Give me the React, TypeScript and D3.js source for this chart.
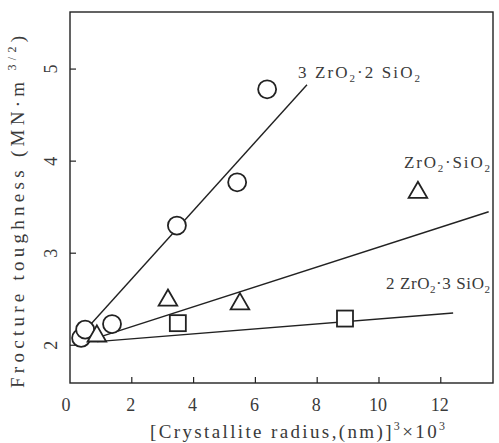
import * as d3 from "d3";

// measured points, x = [crystallite radius (nm)]^3 x 10^3, y = fracture toughness
const circleX = [0.36, 0.49, 1.36, 3.46, 5.41, 6.38];
const circleY = [2.08, 2.17, 2.23, 3.3, 3.77, 4.78];
const triangleX = [0.87, 3.17, 5.5, 11.26];
const triangleY = [2.11, 2.5, 2.46, 3.67];
const squareX = [3.49, 8.9];
const squareY = [2.24, 2.29];

// fitted straight lines: [x0, y0, x1, y1]
const circleFit = [0.49, 2.16, 7.67, 4.83];
const triangleFit = [0.87, 2.08, 13.55, 3.45];
const squareFit = [0.87, 2.04, 12.4, 2.35];

const xTicks = [0, 2, 4, 6, 8, 10, 12];
const yTicks = [2, 3, 4, 5];

const W = 499;
const H = 443;
const ink = "#222";
const txt = "#3a3a3a";
const serif = { fontFamily: "'Liberation Serif', 'Times New Roman', serif" };

// chemical formula with subscript 2s
const Formula = ({ x, y, w, parts }: { x: number; y: number; w: number; parts: string[] }) => (
  <text x={x} y={y} style={serif} fontSize={17} fill={txt} textLength={w} lengthAdjust="spacing">
    {parts.map((p, i) =>
      p === "_2" ? (
        <tspan key={i} fontSize={11} dy={4}>2</tspan>
      ) : (
        <tspan key={i} dy={i > 0 && parts[i - 1] === "_2" ? -4 : 0}>{p}</tspan>
      )
    )}
  </text>
);

const App = () => {
  const x = d3.scaleLinear().domain([0, 13.69]).range([70, 493]);
  const y = d3.scaleLinear().domain([1.59, 5.62]).range([383, 12]);

  const fit = (f: number[]) =>
    d3.line()([
      [x(f[0]), y(f[1])],
      [x(f[2]), y(f[3])],
    ]) || "";

  const tri = d3.symbol().type(d3.symbolTriangle).size(150);

  return (
    <svg width={W} height={H} style={{ position: "absolute", left: 0, top: 0, background: "#fff" }}>
      {/* frame */}
      <rect x={70} y={12} width={493 - 70} height={383 - 12} fill="none" stroke={ink} strokeWidth={1.4} />

      {/* ticks, pointing inward */}
      {xTicks.slice(1).map((t) => (
        <line key={t} x1={x(t)} x2={x(t)} y1={383} y2={377} stroke={ink} strokeWidth={1.2} />
      ))}
      {yTicks.map((t) => (
        <line key={t} x1={70} x2={76} y1={y(t)} y2={y(t)} stroke={ink} strokeWidth={1.2} />
      ))}

      {/* tick labels */}
      {xTicks.map((t) => (
        <text key={t} x={x(t) - (t === 0 ? 4 : 1)} y={411} textAnchor="middle" style={serif} fontSize={18} fill={txt}>
          {t}
        </text>
      ))}
      {yTicks.map((t) => (
        <text
          key={t}
          transform={`translate(57, ${y(t)}) rotate(-90)`}
          textAnchor="middle"
          style={serif}
          fontSize={18}
          fill={txt}
        >
          {t}
        </text>
      ))}

      {/* axis titles */}
      <text x={150} y={438} style={serif} fontSize={19} fill={txt} textLength={295} lengthAdjust="spacing">
        [Crystallite  radius,(nm)]
        <tspan fontSize={12} dy={-8}>3</tspan>
        <tspan dy={8}>×10</tspan>
        <tspan fontSize={12} dy={-8}>3</tspan>
      </text>
      <text
        transform={`translate(24, 388) rotate(-90)`}
        style={serif}
        fontSize={19}
        fill={txt}
        textLength={352}
        lengthAdjust="spacing"
      >
        Frocture toughness (MN·m
        <tspan fontSize={12} dy={-8}> 3/2</tspan>
        <tspan dy={8}>)</tspan>
      </text>

      {/* fitted lines */}
      {[circleFit, triangleFit, squareFit].map((f, i) => (
        <path key={i} d={fit(f)} stroke={ink} strokeWidth={1.4} fill="none" />
      ))}

      {/* markers */}
      {circleX.map((v, i) => (
        <circle key={i} cx={x(v)} cy={y(circleY[i])} r={9} fill="#fff" stroke={ink} strokeWidth={1.8} />
      ))}
      {triangleX.map((v, i) => (
        <path
          key={i}
          d={tri() || ""}
          transform={`translate(${x(v)}, ${y(triangleY[i]) + 1})`}
          fill="#fff"
          stroke={ink}
          strokeWidth={1.8}
        />
      ))}
      {squareX.map((v, i) => (
        <rect key={i} x={x(v) - 8} y={y(squareY[i]) - 8} width={16} height={16} fill="#fff" stroke={ink} strokeWidth={1.8} />
      ))}

      {/* series labels */}
      <Formula x={298} y={78} w={122} parts={["3 ZrO", "_2", "·2 SiO", "_2"]} />
      <Formula x={404} y={168} w={86} parts={["ZrO", "_2", "·SiO", "_2"]} />
      <Formula x={386} y={289} w={104} parts={["2 ZrO", "_2", "·3 SiO", "_2"]} />
    </svg>
  );
};

export default App;
